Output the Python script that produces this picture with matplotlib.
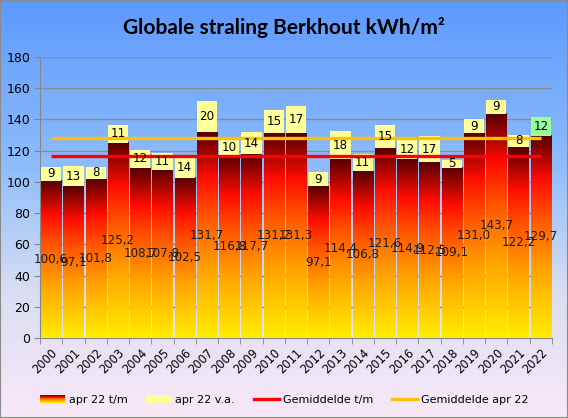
import numpy as np
import matplotlib
matplotlib.use('Agg')
import matplotlib.pyplot as plt
from matplotlib.colors import LinearSegmentedColormap
from matplotlib.patches import Rectangle
from matplotlib.legend_handler import HandlerBase
from matplotlib.lines import Line2D

# Gegevens
jaren = ['2000', '2001', '2002', '2003', '2004', '2005', '2006', '2007', '2008',
         '2009', '2010', '2011', '2012', '2013', '2014', '2015', '2016', '2017',
         '2018', '2019', '2020', '2021', '2022']
straling_tm = [100.6, 97.1, 101.8, 125.2, 108.7, 107.8, 102.5, 131.7, 116.8,
               117.7, 131.2, 131.3, 97.1, 114.4, 106.8, 121.6, 114.9, 112.5,
               109.1, 131.0, 143.7, 122.2, 129.7]
straling_va = [9, 13, 8, 11, 12, 11, 14, 20, 10, 14, 15, 17, 9, 18, 11, 15,
               12, 17, 5, 9, 9, 8, 12]
gem_tm = 116.3
gem_apr = 128.4

plt.rcParams['font.family'] = 'DejaVu Sans'

# kleurverloop voor de staven (onder geel, boven donkerrood)
staaf_cmap = LinearSegmentedColormap.from_list('staaf', [
    (0.0, '#ffee00'), (0.35, '#ffa000'), (0.6, '#ff5200'),
    (0.78, '#ff0c00'), (1.0, '#560000')])
# achtergrond: boven blauw, onder lichtpaars
bg_cmap = LinearSegmentedColormap.from_list('bg', [
    (0.0, '#f9e8f8'), (0.3, '#dadef2'), (0.6, '#8fbdfb'), (1.0, '#5d99fe')])

fig = plt.figure(figsize=(5.68, 4.18), dpi=100)

bg = fig.add_axes([0, 0, 1, 1], zorder=-1)
bg.imshow(np.linspace(0, 1, 256).reshape(-1, 1), cmap=bg_cmap, origin='lower',
          aspect='auto', extent=[0, 1, 0, 1])
bg.axis('off')
fig.patches.append(Rectangle((0, 0), 1, 1, transform=fig.transFigure, fill=False,
                             edgecolor='#8a8a8a', linewidth=1.5))

ax = fig.add_axes([40/568, 1-338/418, 512/568, 281/418])
ax.patch.set_alpha(0)

x = np.arange(len(jaren))
w = 0.91
grad = np.linspace(0, 1, 256).reshape(-1, 1)

bars = ax.bar(x, straling_tm, width=w, color='none', edgecolor='none', zorder=2)
for b in bars:
    ax.imshow(grad, cmap=staaf_cmap, origin='lower', aspect='auto', zorder=2,
              extent=(b.get_x(), b.get_x() + b.get_width(), 0, b.get_height()))

kleur_va = ['#ffff99'] * (len(jaren) - 1) + ['#99ff99']
bars_va = ax.bar(x, straling_va, width=w, bottom=straling_tm, color=kleur_va,
                 edgecolor='none', zorder=2)

ax.plot([x[0], x[-1]], [gem_tm, gem_tm], color='#ff0000', lw=2.4, zorder=3,
        solid_capstyle='butt')
ax.plot([x[0], x[-1]], [gem_apr, gem_apr], color='#ffc000', lw=2.4, zorder=3,
        solid_capstyle='butt')

for i in range(len(jaren)):
    ax.text(x[i], straling_tm[i] / 2, f'{straling_tm[i]:.1f}'.replace('.', ','),
            ha='center', va='center', fontsize=8.6, color='#1a1a1a', zorder=5)
    ax.text(x[i], straling_tm[i] + straling_va[i] / 2, str(straling_va[i]),
            ha='center', va='center', fontsize=8.6, color='black', zorder=5)

ax.set_xlim(-0.5, len(jaren) - 0.5)
ax.set_ylim(0, 180)
ax.set_yticks(range(0, 181, 20))
ax.yaxis.grid(True, color='#8c8c8c', lw=1, zorder=0)
ax.set_axisbelow(True)

ax.set_xticks(x)
ax.set_xticklabels(jaren, rotation=45, ha='right', rotation_mode='anchor', fontsize=8.3)
ax.set_xticks(np.arange(-0.5, len(jaren), 1), minor=True)
ax.tick_params(axis='x', which='major', length=0, pad=6)
ax.tick_params(axis='x', which='minor', length=4, color='#868686')
ax.tick_params(axis='y', length=4, color='#868686', labelsize=9, pad=3)

for s in ['top', 'right']:
    ax.spines[s].set_visible(False)
for s in ['left', 'bottom']:
    ax.spines[s].set_color('#868686')

fig.text(0.5, 1 - 27/418, 'Globale straling Berkhout kWh/m²', ha='center',
         va='center', fontsize=15, fontweight='bold', family='Lato')


class VerloopHandler(HandlerBase):
    def create_artists(self, legend, orig_handle, xdescent, ydescent, width,
                       height, fontsize, trans):
        n = 10
        delen = []
        for k in range(n):
            delen.append(Rectangle((-xdescent, -ydescent + height * k / n), width,
                                   height / n * 1.05, facecolor=staaf_cmap((k + 0.5) / n),
                                   edgecolor='none', transform=trans))
        return delen


h_tm = Rectangle((0, 0), 1, 1)
h_va = Rectangle((0, 0), 1, 1, facecolor='#ffff99')
h_gtm = Line2D([], [], color='#ff0000', lw=2.4)
h_gapr = Line2D([], [], color='#ffc000', lw=2.4)
fig.legend([h_tm, h_va, h_gtm, h_gapr],
           ['apr 22 t/m', 'apr 22 v.a.', 'Gemiddelde t/m', 'Gemiddelde apr 22'],
           handler_map={h_tm: VerloopHandler()}, loc='center', ncol=4,
           bbox_to_anchor=(0.5, 1 - 400/418), frameon=False, fontsize=8,
           handlelength=2.3, handletextpad=0.3, columnspacing=1.7)

fig.savefig('out.png', dpi=100)
